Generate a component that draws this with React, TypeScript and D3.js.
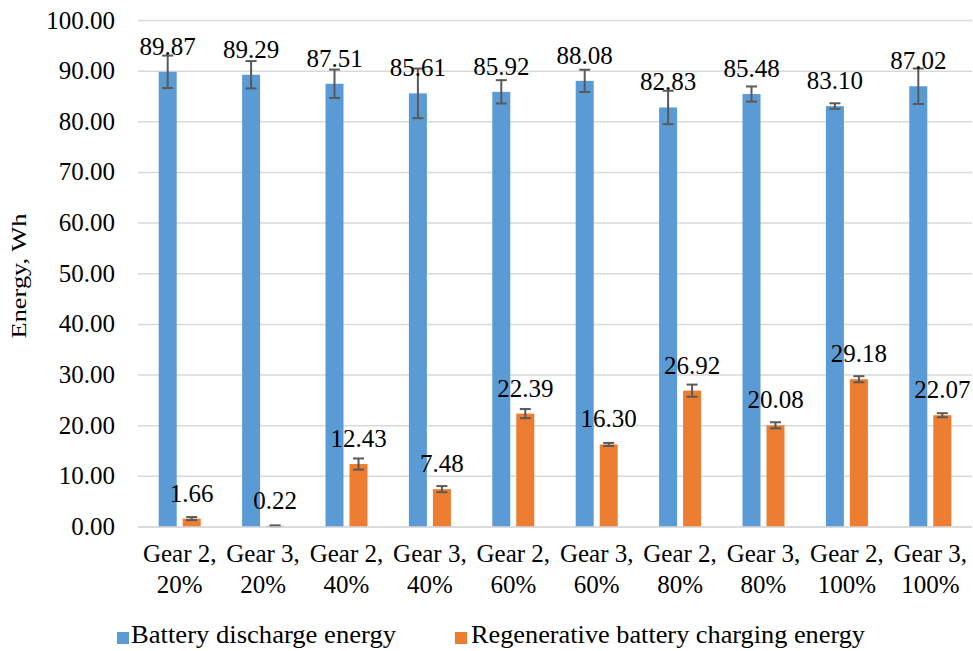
import React from 'react';
import * as d3 from 'd3';

const categories = [
  ['Gear 2,', '20%'], ['Gear 3,', '20%'], ['Gear 2,', '40%'], ['Gear 3,', '40%'],
  ['Gear 2,', '60%'], ['Gear 3,', '60%'], ['Gear 2,', '80%'], ['Gear 3,', '80%'],
  ['Gear 2,', '100%'], ['Gear 3,', '100%'],
];
const dischargeValues = [89.87, 89.29, 87.51, 85.61, 85.92, 88.08, 82.83, 85.48, 83.10, 87.02];
const dischargeErrors = [3.2, 2.7, 2.8, 4.9, 2.3, 2.2, 3.3, 1.5, 0.55, 3.5];
const chargingValues = [1.66, 0.22, 12.43, 7.48, 22.39, 16.30, 26.92, 20.08, 29.18, 22.07];
const chargingErrors = [0.3, 0.1, 1.1, 0.6, 0.9, 0.3, 1.2, 0.6, 0.6, 0.4];
const yTicks = [0, 10, 20, 30, 40, 50, 60, 70, 80, 90, 100];
const seriesNames = ['Battery discharge energy', 'Regenerative battery charging energy'];
const seriesColors = ['#5B9BD5', '#ED7D31'];

const W = 973;
const H = 651;
const left = 138;
const right = 972;
const top = 20.5;
const bottom = 527;
const serif = { fontFamily: "'Liberation Serif', serif" };

export default function App() {
  const idx = categories.map((_, i) => i);
  const x = d3.scaleBand<number>().domain(idx).range([left, right]);
  const y = d3.scaleLinear().domain([0, 100]).range([bottom, top]);
  const inner = d3.scaleBand<number>().domain([0, 1]).range([-21, 21]).paddingInner(0.25);
  const series = [
    { values: dischargeValues, errors: dischargeErrors },
    { values: chargingValues, errors: chargingErrors },
  ];
  const barX = (i: number, si: number) => (x(i) as number) + x.bandwidth() / 2 + (inner(si) as number);

  return (
    <svg width={W} height={H} style={{ position: 'absolute', left: 0, top: 0, background: '#fff' }}>
      {/* gridlines */}
      {yTicks.map(t => (
        <line key={t} x1={left} x2={right} y1={y(t)} y2={y(t)} stroke="#D9D9D9" strokeWidth={1.5} />
      ))}
      {/* tick labels */}
      {yTicks.map(t => (
        <text key={'l' + t} x={115} y={y(t) + 8} textAnchor="end" style={serif} fontSize={25} fill="#000">
          {t.toFixed(2)}
        </text>
      ))}
      <text transform={`translate(26,276) rotate(-90)`} textAnchor="middle" style={serif} fontSize={20}
        textLength={125} lengthAdjust="spacingAndGlyphs" fill="#000">Energy, Wh</text>

      {/* bars */}
      {series.map((s, si) => (
        <g key={si}>
          {s.values.map((v, i) => (
            <rect key={i} x={barX(i, si)} y={y(v)} width={inner.bandwidth()} height={y(0) - y(v)} fill={seriesColors[si]} />
          ))}
        </g>
      ))}
      {/* error bars */}
      {series.map((s, si) => (
        <g key={'e' + si} stroke="#595959" strokeWidth={2}>
          {s.values.map((v, i) => {
            const mx = barX(i, si) + inner.bandwidth() / 2;
            const e = s.errors[i];
            return (
              <g key={i}>
                <line x1={mx} x2={mx} y1={y(v + e)} y2={y(v - e)} />
                <line x1={mx - 5.5} x2={mx + 5.5} y1={y(v + e)} y2={y(v + e)} />
                <line x1={mx - 5.5} x2={mx + 5.5} y1={y(v - e)} y2={y(v - e)} />
              </g>
            );
          })}
        </g>
      ))}
      {/* value labels */}
      {series.map((s, si) => (
        <g key={'v' + si}>
          {s.values.map((v, i) => (
            <text key={i} x={barX(i, si) + inner.bandwidth() / 2} y={y(v) - 17} textAnchor="middle"
              style={serif} fontSize={25} fill="#000">
              {v.toFixed(2)}
            </text>
          ))}
        </g>
      ))}
      {/* bottom axis line */}
      <line x1={left} x2={right} y1={y(0)} y2={y(0)} stroke="#D9D9D9" strokeWidth={1.5} />
      {/* category labels */}
      {categories.map((c, i) => {
        const cx = (x(i) as number) + x.bandwidth() / 2;
        return (
          <text key={'c' + i} textAnchor="middle" style={serif} fontSize={25} fill="#000">
            <tspan x={cx} y={562}>{c[0]}</tspan>
            <tspan x={cx} y={593}>{c[1]}</tspan>
          </text>
        );
      })}
      {/* legend */}
      <rect x={117} y={632} width={12} height={12} fill={seriesColors[0]} />
      <text x={131} y={643} style={serif} fontSize={25} textLength={265} lengthAdjust="spacingAndGlyphs"
        fill="#000">{seriesNames[0]}</text>
      <rect x={455} y={632} width={12} height={12} fill={seriesColors[1]} />
      <text x={471} y={643} style={serif} fontSize={25} textLength={394} lengthAdjust="spacingAndGlyphs"
        fill="#000">{seriesNames[1]}</text>
    </svg>
  );
}
